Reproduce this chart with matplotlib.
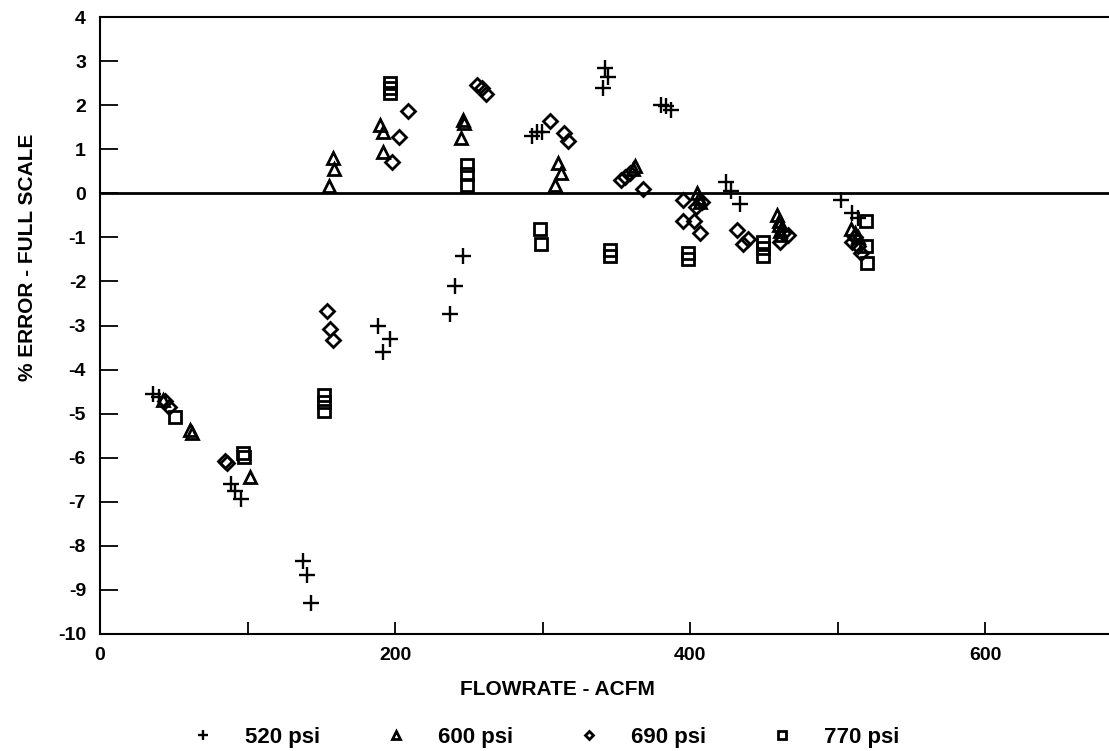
import matplotlib
matplotlib.use("Agg")
import matplotlib.pyplot as plt

plt.rcParams['font.family'] = ['Liberation Sans', 'DejaVu Sans']
plt.rcParams['font.weight'] = 'bold'

# 520 psi
x520 = [36, 40, 89, 91.5, 95.5, 137.5, 140, 143, 188.5, 192, 196.5, 237.5, 240.7, 245.8,
        292.7, 296, 299.4, 341.2, 342.4, 344.6, 380, 383.5, 387, 424.4, 427.8, 434, 502, 510, 514]
y520 = [-4.55, -4.62, -6.6, -6.75, -6.93, -8.35, -8.65, -9.3, -3.0, -3.6, -3.3, -2.75, -2.1, -1.42,
        1.29, 1.4, 1.4, 2.4, 2.84, 2.63, 2.0, 1.98, 1.88, 0.25, 0.06, -0.25, -0.15, -0.45, -0.55]

# 600 psi
x600 = [43, 61, 62.5, 102, 155, 157.8, 158.6, 190, 191.6, 192, 245, 246, 246.5, 308.5, 310.7, 312.3,
        361, 363, 405, 406, 407, 459, 460, 460.5, 461, 461.5, 509, 512, 514]
y600 = [-4.68, -5.38, -5.45, -6.44, 0.16, 0.8, 0.55, 1.55, 1.4, 0.93, 1.25, 1.67, 1.6, 0.19, 0.68, 0.45,
        0.55, 0.62, 0.0, -0.1, -0.2, -0.5, -0.62, -0.72, -0.85, -0.95, -0.8, -0.9, -1.0]

# 690 psi
x690 = [44, 47, 85, 86, 153.7, 156, 157.7, 198, 203, 208.6, 255.6, 258.8, 261.7, 305, 314.6, 317,
        353, 356, 359, 368.4, 395.5, 395, 402.7, 404, 406.8, 408, 432, 435.7, 439.5, 461, 463, 466.6,
        510, 512, 514, 516]
y690 = [-4.72, -4.84, -6.08, -6.12, -2.67, -3.08, -3.33, 0.7, 1.27, 1.86, 2.45, 2.4, 2.25, 1.63, 1.36, 1.18,
        0.3, 0.37, 0.45, 0.09, -0.15, -0.63, -0.63, -0.3, -0.9, -0.2, -0.83, -1.16, -1.04, -1.1, -0.9, -0.95,
        -1.1, -1.0, -1.2, -1.35]

# 770 psi
x770 = [51, 97, 97.5, 152, 152, 152, 196.6, 196.6, 196.6, 249, 249, 249, 298.3, 298.8, 345.8, 345.8,
        398.6, 398.6, 449.5, 449.5, 449.5, 519, 519.5, 520]
y770 = [-5.07, -5.9, -5.98, -4.57, -4.73, -4.93, 2.5, 2.39, 2.27, 0.64, 0.43, 0.19, -0.8, -1.15, -1.28, -1.42,
        -1.36, -1.48, -1.1, -1.25, -1.42, -0.62, -1.2, -1.58]

labels = ['520 psi', '600 psi', '690 psi', '770 psi']
xticks = [0, 100, 200, 300, 400, 500, 600]
xticklabels = ['0', '', '200', '', '400', '', '600']
yticks = list(range(-10, 5))

fig = plt.figure(figsize=(11.09, 7.51), dpi=100)
ax = fig.add_axes([100 / 1109, 1 - 634 / 751, 1009 / 1109, 617 / 751])

h1, = ax.plot(x520, y520, ls='none', marker='+', ms=11, mew=1.7, color='black')
h2, = ax.plot(x600, y600, ls='none', marker='^', ms=9, mew=2, mfc='none', color='black')
h3, = ax.plot(x690, y690, ls='none', marker='D', ms=7, mew=2, mfc='none', color='black')
h4, = ax.plot(x770, y770, ls='none', marker='s', ms=9, mew=2, mfc='none', color='black')

ax.axhline(0, color='black', lw=2)
ax.set_xlim(0, 684)
ax.set_ylim(-10, 4)
ax.spines['right'].set_visible(False)
for s in ['left', 'bottom', 'top']:
    ax.spines[s].set_linewidth(1.5)

ax.set_xticks(xticks)
ax.set_xticklabels(xticklabels)
ax.set_yticks(yticks)
ax.set_yticklabels([str(v) for v in yticks])
ax.tick_params(axis='y', direction='in', length=13, width=1.3, pad=10, labelsize=14)
ax.tick_params(axis='x', direction='in', length=9, width=1.3, pad=9, labelsize=14)

ax.set_xlabel('FLOWRATE - ACFM', fontsize=15, fontweight='bold')
ax.xaxis.set_label_coords(0.453, -0.075)
ax.set_ylabel('% ERROR - FULL SCALE', fontsize=15, fontweight='bold')
ax.yaxis.set_label_coords(-0.062, 0.61)

fig.legend([h1, h2, h3, h4], labels, ncol=4, loc='center', bbox_to_anchor=(0.492, 0.018),
           frameon=False, fontsize=16, markerscale=0.65, handlelength=1.0,
           handletextpad=1.4, columnspacing=2.9)

fig.savefig('out.png', dpi=100)
